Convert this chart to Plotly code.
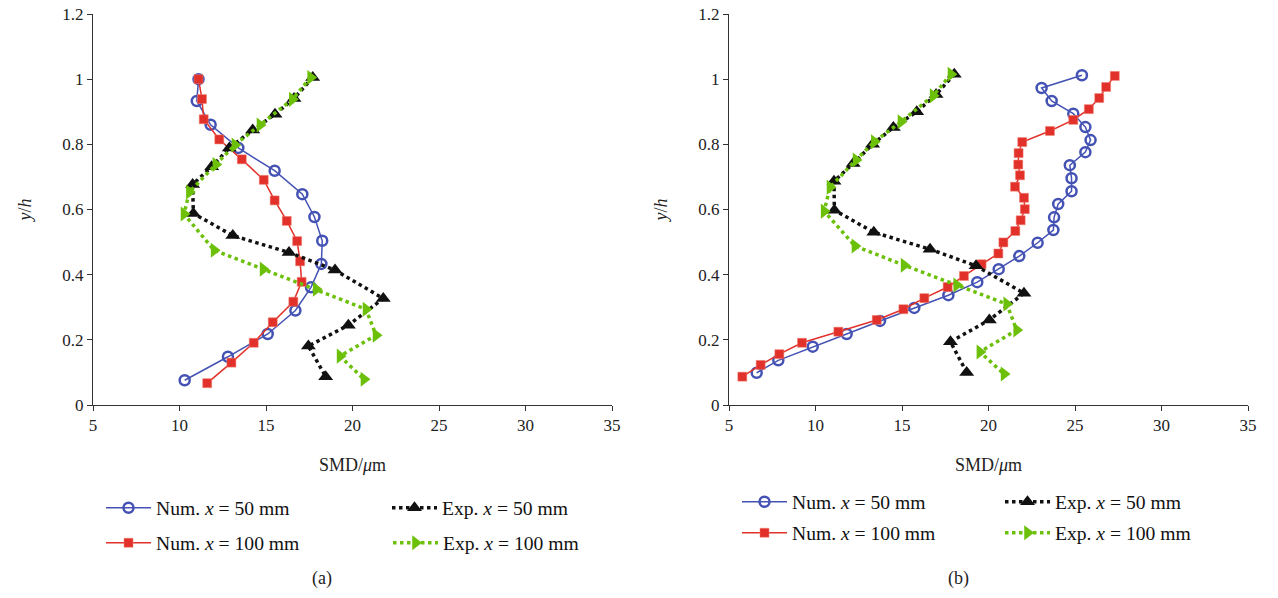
import plotly.graph_objects as go

# ---------------- data: panel (a) ----------------
a_num50_x = [11.1, 11.0, 11.8, 13.4, 15.5, 17.1, 17.8, 18.25, 18.2, 17.6, 16.7, 15.1, 12.8, 10.3]
a_num50_y = [1.0, 0.933, 0.86, 0.789, 0.719, 0.647, 0.577, 0.504, 0.433, 0.361, 0.29, 0.218, 0.148, 0.076]

a_num100_x = [11.1, 11.3, 11.4, 12.3, 13.6, 14.87, 15.5, 16.2, 16.8, 16.97, 17.06, 16.58, 15.39, 14.29, 13.0, 11.6]
a_num100_y = [1.0, 0.939, 0.877, 0.815, 0.754, 0.691, 0.628, 0.565, 0.503, 0.441, 0.378, 0.317, 0.254, 0.191, 0.13, 0.067]

a_exp50_x = [17.7, 16.62, 15.52, 14.23, 12.88, 11.86, 10.76, 10.8, 13.08, 16.33, 18.99, 21.78, 19.76, 17.45, 18.45]
a_exp50_y = [1.005, 0.941, 0.892, 0.844, 0.789, 0.731, 0.677, 0.588, 0.52, 0.468, 0.414, 0.327, 0.245, 0.181, 0.087]

a_exp100_x = [17.58, 16.52, 14.65, 13.2, 12.1, 10.57, 10.26, 12.0, 14.83, 17.9, 20.78, 21.36, 19.28, 20.66]
a_exp100_y = [1.005, 0.938, 0.859, 0.798, 0.738, 0.654, 0.586, 0.475, 0.417, 0.355, 0.294, 0.214, 0.15, 0.079]

# ---------------- data: panel (b) ----------------
b_num50_x = [25.4, 23.07, 23.65, 24.9, 25.6, 25.9, 25.6, 24.7, 24.8, 24.8, 24.03, 23.79, 23.75, 22.84,
             21.78, 20.59, 19.35, 17.68, 15.71, 13.73, 11.8, 9.84, 7.85, 6.6]
b_num50_y = [1.012, 0.973, 0.933, 0.894, 0.853, 0.813, 0.776, 0.736, 0.696, 0.656, 0.617, 0.576, 0.537, 0.498,
             0.457, 0.417, 0.377, 0.337, 0.298, 0.258, 0.218, 0.179, 0.137, 0.099]

b_num100_x = [27.3, 26.8, 26.4, 25.8, 24.9, 23.55, 21.95, 21.74, 21.72, 21.82, 21.53, 22.05, 22.1, 21.86,
              21.55, 20.86, 20.57, 19.6, 18.58, 17.64, 16.29, 15.08, 13.54, 11.32, 9.22, 7.91, 6.83, 5.77]
b_num100_y = [1.01, 0.976, 0.942, 0.908, 0.875, 0.841, 0.807, 0.773, 0.738, 0.705, 0.67, 0.636, 0.601, 0.567,
              0.534, 0.499, 0.465, 0.432, 0.396, 0.362, 0.328, 0.294, 0.261, 0.225, 0.191, 0.156, 0.123, 0.087]

b_exp50_x = [18.02, 16.97, 15.85, 14.5, 13.3, 12.18, 11.07, 11.09, 13.37, 16.62, 19.28, 22.05, 20.05, 17.8, 18.74]
b_exp50_y = [1.015, 0.953, 0.9, 0.852, 0.8, 0.741, 0.687, 0.598, 0.53, 0.478, 0.427, 0.343, 0.261, 0.194, 0.1]

b_exp100_x = [17.83, 16.8, 14.94, 13.4, 12.34, 10.84, 10.5, 12.28, 15.12, 18.16, 21.05, 21.63, 19.5, 20.9]
b_exp100_y = [1.015, 0.949, 0.869, 0.808, 0.752, 0.668, 0.595, 0.488, 0.429, 0.368, 0.31, 0.23, 0.163, 0.095]

x_ticks = [5, 10, 15, 20, 25, 30, 35]
y_ticks = [0, 0.2, 0.4, 0.6, 0.8, 1, 1.2]

names = ["Num. <i>x</i> = 50 mm", "Num. <i>x</i> = 100 mm",
         "Exp. <i>x</i> = 50 mm", "Exp. <i>x</i> = 100 mm"]

BLUE = "#4452B4"
RED = "#E2302A"
BLACK = "#111111"
GREEN = "#6CC00A"
SERIF = "Liberation Serif, DejaVu Serif, serif"

W, H = 1278, 598

fig = go.Figure()


def add_panel(xaxis, yaxis, data, legends):
    (n50x, n50y), (n100x, n100y), (e50x, e50y), (e100x, e100y) = data
    fig.add_trace(go.Scatter(x=n50x, y=n50y, mode="lines+markers", name=names[0],
                             xaxis=xaxis, yaxis=yaxis, legend=legends[0],
                             line=dict(color=BLUE, width=1.5),
                             marker=dict(symbol="circle-open", size=10, color=BLUE,
                                         line=dict(width=2.5, color=BLUE))))
    fig.add_trace(go.Scatter(x=n100x, y=n100y, mode="lines+markers", name=names[1],
                             xaxis=xaxis, yaxis=yaxis, legend=legends[1],
                             line=dict(color=RED, width=1.5),
                             marker=dict(symbol="square", size=9, color=RED,
                                         line=dict(width=0.5, color="#f08070"))))
    fig.add_trace(go.Scatter(x=e50x, y=e50y, mode="lines+markers", name=names[2],
                             xaxis=xaxis, yaxis=yaxis, legend=legends[2],
                             line=dict(color=BLACK, width=3.5, dash="dot"),
                             marker=dict(symbol="triangle-up", size=13, color=BLACK)))
    fig.add_trace(go.Scatter(x=e100x, y=e100y, mode="lines+markers", name=names[3],
                             xaxis=xaxis, yaxis=yaxis, legend=legends[3],
                             line=dict(color=GREEN, width=3.5, dash="dot"),
                             marker=dict(symbol="triangle-right", size=13, color=GREEN)))


add_panel("x", "y",
          [(a_num50_x, a_num50_y), (a_num100_x, a_num100_y),
           (a_exp50_x, a_exp50_y), (a_exp100_x, a_exp100_y)],
          ["legend", "legend2", "legend3", "legend4"])
add_panel("x2", "y2",
          [(b_num50_x, b_num50_y), (b_num100_x, b_num100_y),
           (b_exp50_x, b_exp50_y), (b_exp100_x, b_exp100_y)],
          ["legend5", "legend6", "legend7", "legend8"])

ydom = [1 - 405 / H, 1 - 14 / H]
axis_common = dict(showgrid=False, zeroline=False, showline=True, linecolor="#333333",
                   linewidth=1, ticks="outside", ticklen=5, tickcolor="#333333",
                   tickfont=dict(family=SERIF, size=17, color="#222"))

xa = dict(axis_common, range=[5, 35], tickvals=x_ticks,
          title=dict(text="SMD/<i>μ</i>m", font=dict(family=SERIF, size=18, color="#222"), standoff=23))
ya = dict(axis_common, range=[0, 1.2], tickvals=y_ticks,
          title=dict(text="<i>y</i>/<i>h</i>", font=dict(family=SERIF, size=18, color="#222"), standoff=26))

fig.update_layout(
    xaxis=dict(xa, domain=[93 / W, 612 / W], anchor="y"),
    yaxis=dict(ya, domain=ydom, anchor="x"),
    xaxis2=dict(xa, domain=[729 / W, 1248 / W], anchor="y2"),
    yaxis2=dict(ya, domain=ydom, anchor="x2"),
)


def leg(xpx, ypx):
    return dict(x=xpx / W, y=1 - ypx / H, xanchor="left", yanchor="middle",
                bgcolor="rgba(0,0,0,0)", borderwidth=0, itemwidth=45,
                font=dict(family=SERIF, size=19.6, color="#111"))


fig.update_layout(
    legend=leg(101, 508), legend2=leg(101, 543),
    legend3=leg(387, 508), legend4=leg(388, 543),
    legend5=leg(737, 502), legend6=leg(737, 533),
    legend7=leg(1000, 502), legend8=leg(1000, 533),
)

fig.add_annotation(text="(a)", x=322 / W, y=1 - 578 / H, xref="paper", yref="paper",
                   xanchor="center", yanchor="middle",
                   showarrow=False, font=dict(family=SERIF, size=18, color="#222"))
fig.add_annotation(text="(b)", x=959 / W, y=1 - 578 / H, xref="paper", yref="paper",
                   xanchor="center", yanchor="middle",
                   showarrow=False, font=dict(family=SERIF, size=18, color="#222"))

fig.update_layout(width=W, height=H, margin=dict(l=0, r=0, t=0, b=0, autoexpand=False),
                  paper_bgcolor="white", plot_bgcolor="white", showlegend=True)

fig.write_html("out.html")
